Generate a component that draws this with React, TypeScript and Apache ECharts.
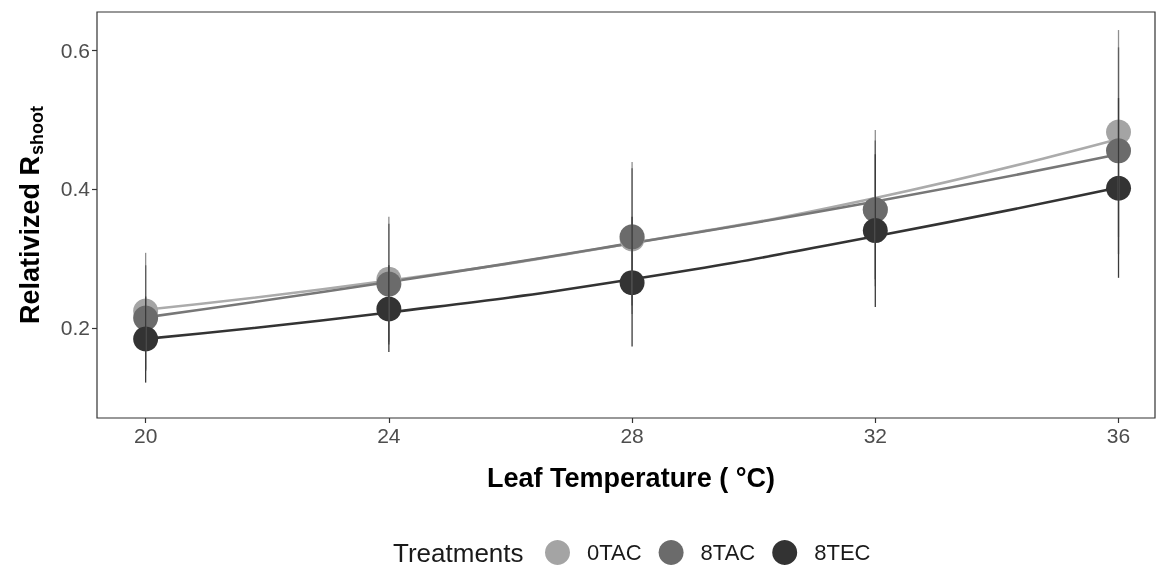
import React, { useEffect, useRef } from "react";
import * as echarts from "echarts";

// Leaf temperature (°C)
const temps = [20, 24, 28, 32, 36];
const xTicks = [20, 24, 28, 32, 36];
const yTicks = [0.2, 0.4, 0.6];

const treatments = ["0TAC", "8TAC", "8TEC"];

// Observed means
const mean0TAC = [0.224, 0.27, 0.328, 0.37, 0.482];
const mean8TAC = [0.214, 0.263, 0.331, 0.37, 0.455];
const mean8TEC = [0.184, 0.227, 0.265, 0.34, 0.401];

// Error bar limits
const low0TAC = [0.14, 0.18, 0.22, 0.26, 0.331];
const high0TAC = [0.308, 0.36, 0.439, 0.485, 0.629];
const low8TAC = [0.138, 0.176, 0.232, 0.27, 0.306];
const high8TAC = [0.29, 0.35, 0.43, 0.47, 0.604];
const low8TEC = [0.121, 0.165, 0.173, 0.23, 0.272];
const high8TEC = [0.245, 0.29, 0.36, 0.45, 0.531];

// Fitted response curves
const fit0TAC = [0.226, 0.268, 0.322, 0.387, 0.472];
const fit8TAC = [0.215, 0.266, 0.322, 0.382, 0.45];
const fit8TEC = [0.184, 0.222, 0.27, 0.332, 0.402];

const pointColors = ["#a4a4a4", "#6b6b6b", "#333333"];
const lineColors = ["#ababab", "#777777", "#333333"];
const barColors = ["#8f8f8f", "#5e5e5e", "#3a3a3a"];

const FONT = "'Liberation Sans', Arial, Helvetica, sans-serif";

export default function App() {
  const ref = useRef<HTMLDivElement>(null);

  useEffect(() => {
    if (!ref.current) return;
    const chart = echarts.init(ref.current, null, { renderer: "svg" });

    const means = [mean0TAC, mean8TAC, mean8TEC];
    const lows = [low0TAC, low8TAC, low8TEC];
    const highs = [high0TAC, high8TAC, high8TEC];
    const fits = [fit0TAC, fit8TAC, fit8TEC];

    const series: any[] = [];
    treatments.forEach((name, i) => {
      series.push({
        name,
        type: "line",
        data: temps.map((t, j) => [t, fits[i][j]]),
        smooth: true,
        showSymbol: false,
        lineStyle: { color: lineColors[i], width: 2.6 },
        itemStyle: { color: lineColors[i] },
        z: 2,
        silent: true,
      });
    });
    treatments.forEach((name, i) => {
      series.push({
        name,
        type: "scatter",
        data: temps.map((t, j) => [t, means[i][j]]),
        symbol: "circle",
        symbolSize: 25,
        itemStyle: { color: pointColors[i], opacity: 1 },
        z: 3,
      });
    });
    treatments.forEach((name, i) => {
      series.push({
        name,
        type: "custom",
        data: temps.map((t, j) => [t, lows[i][j], highs[i][j]]),
        encode: { x: 0, y: [1, 2] },
        renderItem: (params: any, api: any) => {
          const x = api.value(0);
          const p1 = api.coord([x, api.value(1)]);
          const p2 = api.coord([x, api.value(2)]);
          return {
            type: "line",
            shape: { x1: p1[0], y1: p1[1], x2: p2[0], y2: p2[1] },
            style: { stroke: barColors[i], lineWidth: 1.3 },
          };
        },
        z: 4 + i,
      });
    });

    chart.setOption({
      animation: false,
      textStyle: { fontFamily: FONT },
      grid: {
        left: 97,
        right: 2,
        top: 12,
        bottom: 149,
        show: true,
        borderColor: "#333333",
        borderWidth: 1.2,
        backgroundColor: "#ffffff",
      },
      xAxis: {
        type: "value",
        min: 19.2,
        max: 36.6,
        axisLine: { show: false },
        splitLine: { show: false },
        axisTick: {
          show: true,
          customValues: xTicks,
          length: 5,
          lineStyle: { color: "#333333", width: 1.2 },
        },
        axisLabel: {
          customValues: xTicks,
          color: "#4d4d4d",
          fontSize: 21,
          margin: 7,
          fontFamily: FONT,
        },
      },
      yAxis: {
        type: "value",
        min: 0.07,
        max: 0.655,
        axisLine: { show: false },
        splitLine: { show: false },
        axisTick: {
          show: true,
          customValues: yTicks,
          length: 5,
          lineStyle: { color: "#333333", width: 1.2 },
        },
        axisLabel: {
          customValues: yTicks,
          color: "#4d4d4d",
          fontSize: 21,
          margin: 7,
          fontFamily: FONT,
          formatter: (v: number) => v.toFixed(1),
        },
      },
      legend: {
        left: 540,
        top: 535,
        orient: "horizontal",
        itemWidth: 25,
        itemHeight: 25,
        itemGap: 17,
        icon: "circle",
        selectedMode: false,
        data: treatments.map((name, i) => ({
          name,
          itemStyle: { color: pointColors[i] },
        })),
        textStyle: {
          color: "#1a1a1a",
          fontSize: 22,
          fontFamily: FONT,
          padding: [0, 0, 0, 12],
        },
      },
      graphic: [
        {
          type: "text",
          x: 631,
          y: 478,
          style: {
            text: "Leaf Temperature ( °C)",
            font: `bold 27px ${FONT}`,
            fill: "#000000",
            textAlign: "center",
            textVerticalAlign: "middle",
          },
        },
        {
          type: "text",
          x: 393,
          y: 553,
          style: {
            text: "Treatments",
            font: `26px ${FONT}`,
            fill: "#1a1a1a",
            textAlign: "left",
            textVerticalAlign: "middle",
          },
        },
        {
          type: "group",
          x: 30,
          y: 218,
          rotation: Math.PI / 2,
          children: [
            {
              type: "text",
              x: 62,
              y: 0,
              style: {
                text: "Relativized R",
                font: `bold 27px ${FONT}`,
                fill: "#000000",
                textAlign: "right",
                textVerticalAlign: "middle",
              },
            },
            {
              type: "text",
              x: 63,
              y: 7,
              style: {
                text: "shoot",
                font: `bold 18px ${FONT}`,
                fill: "#000000",
                textAlign: "left",
                textVerticalAlign: "middle",
              },
            },
          ],
        },
      ],
      series,
    });

    return () => chart.dispose();
  }, []);

  return (
    <div
      ref={ref}
      style={{ position: "fixed", left: 0, top: 0, width: 1157, height: 567 }}
    />
  );
}
